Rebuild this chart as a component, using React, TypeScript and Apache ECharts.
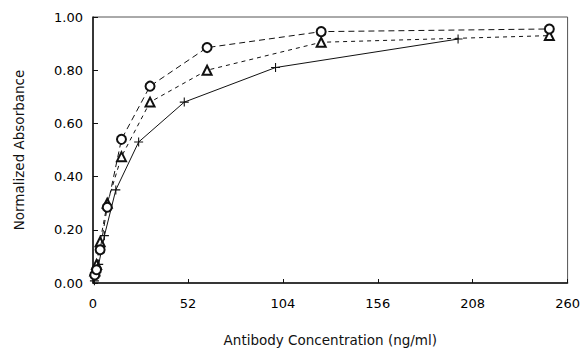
import React, { useEffect, useRef } from "react";
import * as echarts from "echarts";

const circleX = [0.98, 1.95, 3.9, 7.8, 15.6, 31.25, 62.5, 125, 250];
const circleY = [0.03, 0.05, 0.125, 0.285, 0.54, 0.74, 0.885, 0.945, 0.955];

const triangleX = [0.98, 1.95, 3.9, 7.8, 15.6, 31.25, 62.5, 125, 250];
const triangleY = [0.045, 0.07, 0.155, 0.3, 0.475, 0.68, 0.8, 0.905, 0.93];

const plusX = [0.78, 1.56, 3.125, 6.25, 12.5, 25, 50, 100, 200];
const plusY = [0.008, 0.03, 0.07, 0.178, 0.35, 0.53, 0.68, 0.81, 0.917];

const xTicks = [0, 52, 104, 156, 208, 260];
const yTicks = [0, 0.2, 0.4, 0.6, 0.8, 1.0];

const PLUS =
  "path://M4.4,0h1.2v4.4h4.4v1.2h-4.4v4.4h-1.2v-4.4h-4.4v-1.2h4.4z";

const zip = (xs: number[], ys: number[]) => xs.map((x, i) => [x, ys[i]]);

export default function App() {
  const ref = useRef<HTMLDivElement>(null);
  useEffect(() => {
    if (!ref.current) return;
    const chart = echarts.init(ref.current, null, { renderer: "svg" });
    const font = "'DejaVu Sans', 'Liberation Sans', Arial, sans-serif";
    chart.setOption({
      animation: false,
      backgroundColor: "#fff",
      grid: {
        left: 93,
        right: 14,
        top: 17,
        bottom: 65,
        show: true,
        borderColor: "#555",
        borderWidth: 1,
      },
      xAxis: {
        type: "value",
        min: xTicks[0],
        max: xTicks[xTicks.length - 1],
        interval: 52,
        name: "Antibody Concentration (ng/ml)",
        nameLocation: "middle",
        nameGap: 50,
        nameTextStyle: { fontFamily: font, fontSize: 13.5, color: "#111" },
        axisLine: { show: true, lineStyle: { color: "#111", width: 1.5 } },
        axisTick: { show: true, inside: true, length: 4, lineStyle: { color: "#111" } },
        axisLabel: {
          fontFamily: font,
          fontSize: 13,
          color: "#000",
          margin: 14,
        },
        splitLine: { show: false },
      },
      yAxis: {
        type: "value",
        min: yTicks[0],
        max: yTicks[yTicks.length - 1],
        interval: 0.2,
        name: "Normalized Absorbance",
        nameLocation: "middle",
        nameGap: 67,
        nameTextStyle: { fontFamily: font, fontSize: 13.5, color: "#111" },
        axisLine: { show: true, lineStyle: { color: "#111", width: 1.5 } },
        axisTick: { show: true, inside: true, length: 5, lineStyle: { color: "#111" } },
        axisLabel: {
          fontFamily: font,
          fontSize: 13,
          color: "#000",
          margin: 10,
          formatter: (v: number) => v.toFixed(2),
        },
        splitLine: { show: false },
      },
      series: [
        {
          type: "line",
          data: zip(plusX, plusY),
          symbol: PLUS,
          symbolSize: 9,
          itemStyle: { color: "#111" },
          lineStyle: { color: "#111", width: 1, type: "solid" },
          z: 3,
        },
        {
          type: "line",
          data: zip(triangleX, triangleY),
          symbol: "emptyTriangle",
          symbolSize: 9,
          itemStyle: { color: "#111", borderColor: "#111", borderWidth: 1 },
          lineStyle: { color: "#111", width: 1, type: [4, 4] },
          z: 4,
        },
        {
          type: "line",
          data: zip(circleX, circleY),
          symbol: "emptyCircle",
          symbolSize: 9,
          itemStyle: { color: "#111", borderColor: "#111", borderWidth: 1 },
          lineStyle: { color: "#111", width: 1, type: [6, 4] },
          z: 5,
        },
      ],
    });
    return () => chart.dispose();
  }, []);
  return (
    <div
      ref={ref}
      style={{ position: "fixed", left: 0, top: 0, width: 583, height: 352 }}
    />
  );
}
